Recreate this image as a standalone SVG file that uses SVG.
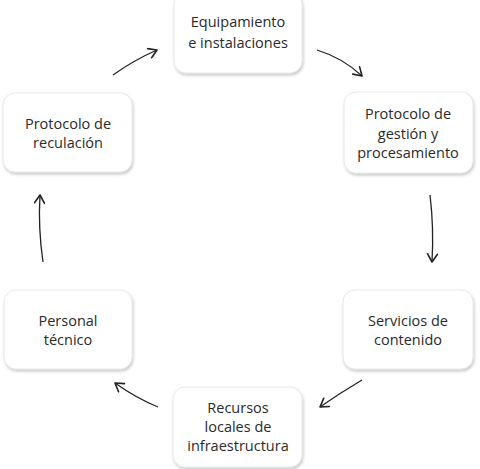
<svg xmlns="http://www.w3.org/2000/svg" width="480" height="469" viewBox="0 0 480 469">
<defs>
<filter id="sh" x="-10%" y="-10%" width="125%" height="130%">
<feDropShadow dx="1" dy="2" stdDeviation="1.6" flood-color="#000" flood-opacity="0.22"/>
</filter>
<marker id="ah" viewBox="0 0 12 12" refX="10" refY="6" markerWidth="12" markerHeight="12" markerUnits="userSpaceOnUse" orient="auto">
<path d="M2,1 L10,6 L2,11" fill="none" stroke="#222" stroke-width="1.6" stroke-linejoin="round" stroke-linecap="round"/>
</marker>
</defs>
<style>
.box{fill:#fff;stroke:#e2e2e2;stroke-width:0.8;filter:url(#sh)}
.lbl{font-family:"Open Sans","Liberation Sans",sans-serif;font-size:14.5px;fill:#2a2a2a;text-anchor:middle}
.c{fill:none;stroke:#222;stroke-width:1.3;marker-end:url(#ah)}
</style>
<rect width="480" height="469" fill="#fff"/>
<g id="equipamiento">
<rect class="box" x="174" y="-8" width="128" height="81" rx="12"/>
<text class="lbl" x="238" y="27">Equipamiento</text>
<text class="lbl" x="238" y="48">e instalaciones</text>
</g>
<g id="gestion">
<rect class="box" x="344" y="92" width="129" height="81" rx="12"/>
<text class="lbl" x="408" y="119">Protocolo de</text>
<text class="lbl" x="408" y="139">gestión y</text>
<text class="lbl" x="408" y="158">procesamiento</text>
</g>
<g id="servicios">
<rect class="box" x="343" y="290" width="130" height="79" rx="12"/>
<text class="lbl" x="408" y="326">Servicios de</text>
<text class="lbl" x="408" y="345">contenido</text>
</g>
<g id="recursos">
<rect class="box" x="173" y="387" width="129" height="80" rx="12"/>
<text class="lbl" x="238" y="413">Recursos</text>
<text class="lbl" x="238" y="432">locales de</text>
<text class="lbl" x="238" y="451">infraestructura</text>
</g>
<g id="personal">
<rect class="box" x="4" y="290" width="128" height="79" rx="12"/>
<text class="lbl" x="68" y="326">Personal</text>
<text class="lbl" x="68" y="345">técnico</text>
</g>
<g id="reculacion">
<rect class="box" x="3" y="93" width="129" height="79" rx="12"/>
<text class="lbl" x="68" y="129">Protocolo de</text>
<text class="lbl" x="68" y="148">reculación</text>
</g>
<g id="connectors">
<path class="c" d="M113,75 Q134,60 157,50"/>
<path class="c" d="M317,50 Q343,58 362,76"/>
<path class="c" d="M430,195 Q434,228 432,262"/>
<path class="c" d="M362,380 Q340,393 320,407"/>
<path class="c" d="M158,407 Q136,398 115,383"/>
<path class="c" d="M43,262 Q38,228 40,195"/>
</g>
</svg>
